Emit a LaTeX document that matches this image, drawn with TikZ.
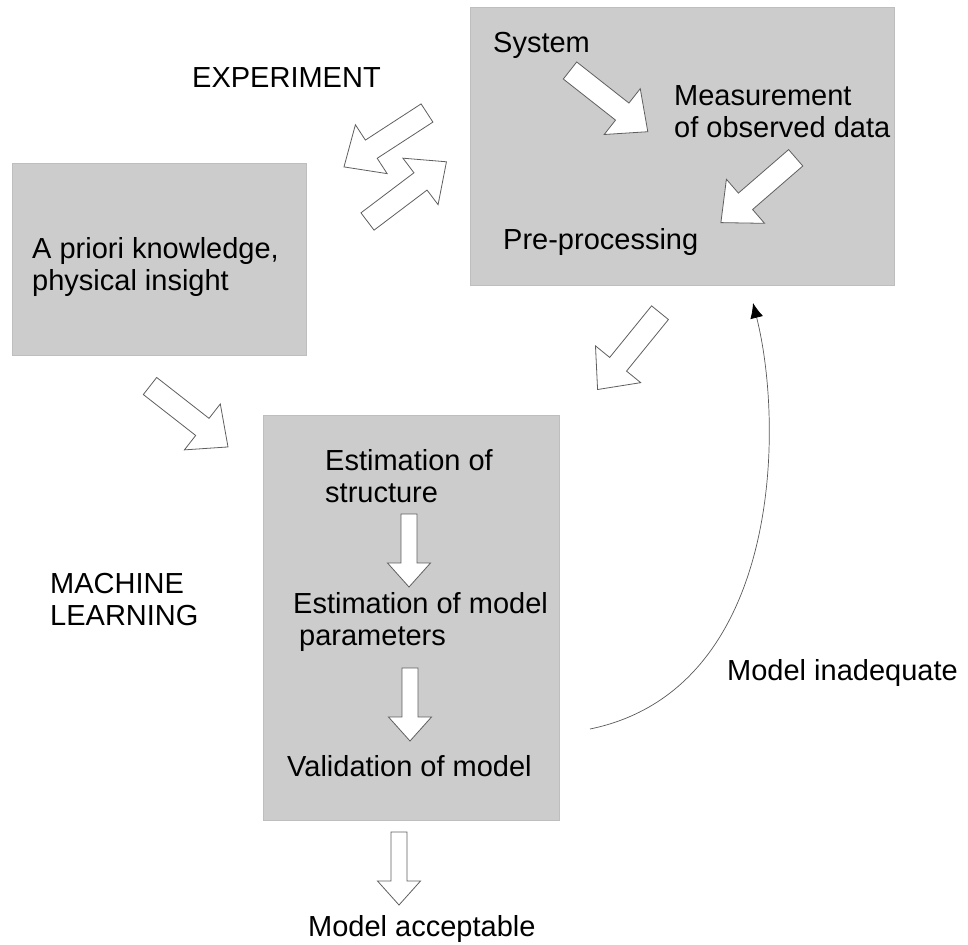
\documentclass[tikz,border=0pt]{standalone}
\usepackage{fontspec}
\setmainfont{Liberation Sans}
\usetikzlibrary{arrows.meta}
\definecolor{boxgray}{RGB}{204,204,204}
\definecolor{edgegray}{RGB}{190,190,190}
\definecolor{arrowgray}{RGB}{95,95,95}
\tikzset{
  stage/.style={draw=edgegray,fill=boxgray,line width=0.6pt,inner sep=0pt,anchor=north west},
  txt/.style={anchor=base west,inner sep=0pt,align=left,font=\fontsize{29}{32}\selectfont},
  fatarrow/.pic={
    \draw[draw=arrowgray,fill=white,line width=0.8pt] (0,-8) -- (49,-8) -- (49,-21.5) -- (73,0) -- (49,21.5) -- (49,8) -- (0,8) -- cycle;
  }
}

\begin{document}
\begin{tikzpicture}[x=1pt,y=-1pt]
            \useasboundingbox (0,0) rectangle (968,944);

            % the three grey stages
            \node[stage,minimum width=424pt,minimum height=278pt] (expbox) at (470,7) {};
            \node[stage,minimum width=294pt,minimum height=192pt] (priorbox) at (12,163) {};
            \node[stage,minimum width=296pt,minimum height=405pt] (mlbox) at (263,415) {};

            % two-line texts sit on the baseline of their last line
            \node[txt] (exptitle) at (192,88) {EXPERIMENT};
            \node[txt] (systxt) at (493,53) {System};
            \node[txt] (meastxt) at (674,138) {Measurement\\of observed data};
            \node[txt] (pretxt) at (503,249) {Pre-processing};
            \node[txt] (priortxt) at (32,290) {A priori knowledge,\\physical insight};
            \node[txt] (mltitle) at (50,625) {MACHINE\\LEARNING};
            \node[txt] (structtxt) at (325,502) {Estimation of\\structure};
            \node[txt] (paramtxt) at (293,645) {Estimation of model\\\hspace*{6pt}parameters};
            \node[txt] (validtxt) at (287,776) {Validation of model};
            \node[txt] (inadtxt) at (727,680) {Model inadequate};
            \node[txt] (acctxt) at (308,936) {Model acceptable};

            % block arrows
            \pic[rotate=-38.2,scale=1.356] at (570,70.5) {fatarrow};
            \pic[rotate=-139.1,scale=1.356] at (795.7,157.8) {fatarrow};
            \pic[rotate=213,scale=1.356] at (427,113) {fatarrow};
            \pic[rotate=37.1,scale=1.356] at (367.5,221.5) {fatarrow};
            \pic[rotate=-38,scale=1.356] at (150,386) {fatarrow};
            \pic[rotate=-129.1,scale=1.356] at (660,312.7) {fatarrow};
            \pic[rotate=-90] at (409,514) {fatarrow};
            \pic[rotate=-90] at (410,668) {fatarrow};
            \pic[rotate=-90] at (399,832) {fatarrow};

            % feedback when the model fails
            \coordinate (inadstart) at (590,729);
            \coordinate (inadend) at (753,303);
            \draw[black!65,line width=0.7pt,-{Latex[length=15pt,width=13pt,color=black]}] (inadstart) .. controls (780,690) and (785,430) .. (inadend);
\end{tikzpicture}
\end{document}
